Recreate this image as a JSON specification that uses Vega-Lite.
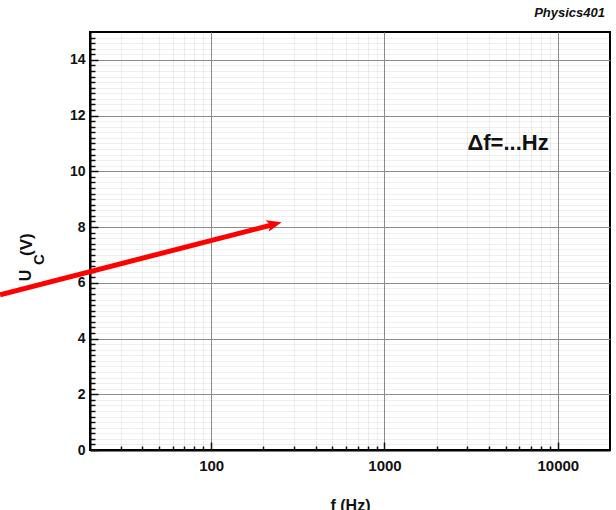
{
  "$schema": "https://vega.github.io/schema/vega-lite/v6.json",
  "width": 520,
  "height": 418,
  "autosize": {"type": "none"},
  "padding": {"left": 90, "top": 32, "right": 6, "bottom": 60},
  "background": "white",
  "title": {"text": "Physics401", "anchor": "end", "fontSize": 13, "fontStyle": "italic", "fontWeight": "bold", "font": "Liberation Sans", "color": "#111111", "baseline": "alphabetic", "offset": 1, "dx": -5},
  "config": {"view": {"stroke": "black", "strokeWidth": 2}, "font": "Liberation Sans"},
  "datasets": {"arrow": [{"f": 6.05, "u": 5.57}, {"f": 225, "u": 8.08}]},
  "layer": [
    {
      "data": {"name": "arrow"},
      "mark": {"type": "line", "color": "#ff0000", "strokeWidth": 5, "clip": false, "strokeCap": "butt"},
      "encoding": {
        "x": {
          "field": "f", "type": "quantitative",
          "scale": {"type": "log", "domain": [20, 20000], "nice": false},
          "axis": {
            "values": [30, 40, 50, 60, 70, 80, 90, 100, 200, 300, 400, 500, 600, 700, 800, 900, 1000, 2000, 3000, 4000, 5000, 6000, 7000, 8000, 9000, 10000],
            "tickCount": 500,
            "labelExpr": "datum.value == 100 || datum.value == 1000 || datum.value == 10000 ? format(datum.value, 'd') : ''",
            "labelFontSize": 15, "labelFontWeight": "bold", "labelColor": "#111111", "labelPadding": 16,
            "labelOverlap": false, "labelFlush": false,
            "tickColor": "#111111", "tickWidth": 1.5,
            "tickSize": {"condition": {"test": "datum.value == 100 || datum.value == 1000 || datum.value == 10000", "value": -8}, "value": -4},
            "domainColor": "black", "domainWidth": 2,
            "grid": true,
            "gridColor": {"condition": {"test": "datum.value == 100 || datum.value == 1000 || datum.value == 10000", "value": "#8c8c8c"}, "value": "#000000"},
            "gridOpacity": {"condition": {"test": "datum.value == 100 || datum.value == 1000 || datum.value == 10000", "value": 1}, "value": 0.07},
            "gridWidth": 1,
            "title": "f (Hz)", "titleFontSize": 16, "titleFontWeight": "bold", "titleColor": "#111111", "titleBaseline": "top", "titleY": 47
          }
        },
        "y": {
          "field": "u", "type": "quantitative",
          "scale": {"domain": [0, 15], "nice": false},
          "axis": {
            "values": [0,0.2,0.4,0.6,0.8,1,1.2,1.4,1.6,1.8,2,2.2,2.4,2.6,2.8,3,3.2,3.4,3.6,3.8,4,4.2,4.4,4.6,4.8,5,5.2,5.4,5.6,5.8,6,6.2,6.4,6.6,6.8,7,7.2,7.4,7.6,7.8,8,8.2,8.4,8.6,8.8,9,9.2,9.4,9.6,9.8,10,10.2,10.4,10.6,10.8,11,11.2,11.4,11.6,11.8,12,12.2,12.4,12.6,12.8,13,13.2,13.4,13.6,13.8,14,14.2,14.4,14.6,14.8],
            "tickCount": 500,
            "labelExpr": "datum.value % 2 == 0 ? format(datum.value, 'd') : ''",
            "labelFontSize": 14, "labelFontWeight": "bold", "labelColor": "#111111", "labelPadding": 13,
            "labelOverlap": false, "labelFlush": false,
            "tickColor": "#111111", "tickWidth": 1.5,
            "tickSize": {"condition": {"test": "datum.value % 2 == 0", "value": -8}, "value": -5},
            "domainColor": "black", "domainWidth": 2,
            "grid": true,
            "gridColor": {"condition": {"test": "datum.value % 2 == 0", "value": "#8c8c8c"}, "value": "#000000"},
            "gridOpacity": {"condition": {"test": "datum.value % 2 == 0", "value": 1}, "value": 0.06},
            "gridWidth": 1,
            "title": null
          }
        }
      }
    },
    {
      "data": {"values": [{}]},
      "mark": {"type": "point", "shape": "M 0 0 L -2 -0.8 L -1.5 0 L -2 0.8 Z", "size": 225, "filled": true, "color": "#ff0000", "opacity": 1, "angle": 345.6, "clip": false},
      "encoding": {"x": {"datum": 255}, "y": {"datum": 8.17}}
    },
    {
      "data": {"values": [{}]},
      "mark": {"type": "text", "text": "Δf=...Hz", "fontSize": 22, "fontWeight": "bold", "color": "#111111", "align": "center", "baseline": "middle"},
      "encoding": {"x": {"datum": 5165}, "y": {"datum": 11.0}}
    },
    {
      "data": {"values": [{}]},
      "mark": {"type": "text", "text": "U", "fontSize": 16, "fontWeight": "bold", "color": "#111111", "align": "center", "baseline": "middle", "angle": 270, "clip": false},
      "encoding": {"x": {"datum": 8.54}, "y": {"datum": 6.26}}
    },
    {
      "data": {"values": [{}]},
      "mark": {"type": "text", "text": "C", "fontSize": 15, "fontWeight": "bold", "color": "#111111", "align": "center", "baseline": "middle", "angle": 270, "clip": false},
      "encoding": {"x": {"datum": 10.15}, "y": {"datum": 6.83}}
    },
    {
      "data": {"values": [{}]},
      "mark": {"type": "text", "text": "(V)", "fontSize": 17, "fontWeight": "bold", "color": "#111111", "align": "center", "baseline": "middle", "angle": 270, "clip": false},
      "encoding": {"x": {"datum": 8.66}, "y": {"datum": 7.37}}
    }
  ]
}
